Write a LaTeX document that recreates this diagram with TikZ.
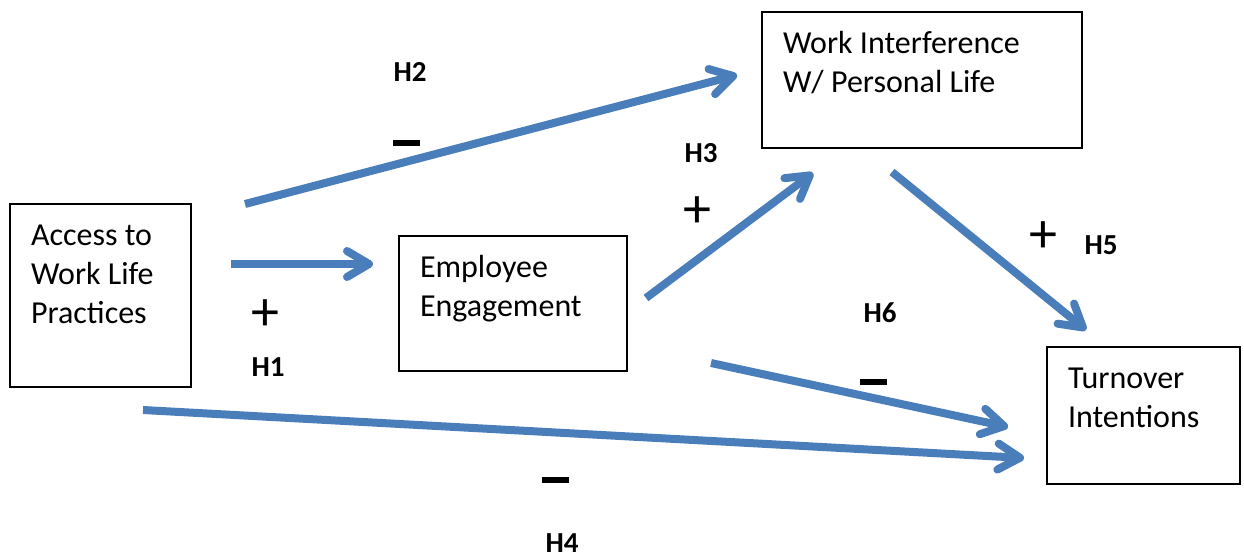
\documentclass[tikz,border=0pt]{standalone}
\usepackage{fontspec}
\setmainfont{Carlito}
\usetikzlibrary{arrows.meta}
\definecolor{arrowblue}{RGB}{74,126,187}
\tikzset{
  boxnode/.style={draw=black, line width=1.6pt, anchor=north west, inner sep=0pt, outer sep=0pt},
  arr/.style={draw=arrowblue, line width=8pt, -{Straight Barb[length=22pt, width=26pt, round]}},
  hlab/.style={font=\fontsize{29}{31}\selectfont\bfseries, inner sep=0pt},
  sign/.style={font=\fontsize{56}{58}\selectfont, inner sep=0pt},
  minussign/.style={fill=black, minimum width=27pt, minimum height=5.5pt, inner sep=0pt}
}
\newcommand{\boxtext}[3]{\parbox[c][#1][t]{#2}{\raggedright\leftskip=21pt\fontsize{32}{39}\selectfont\rule{0pt}{41pt}#3}}
\begin{document}
\begin{tikzpicture}[x=1pt,y=-1pt]
\useasboundingbox (0,0) rectangle (1244,557);
% boxes
\node[boxnode] (access) at (10,204) {\boxtext{183pt}{181pt}{Access to\\Work Life\\Practices}};
\node[boxnode] (engage) at (399,236) {\boxtext{135pt}{228pt}{Employee\\Engagement}};
\node[boxnode] (wipl) at (762,12) {\boxtext{136pt}{320pt}{Work Interference\\W/ Personal Life}};
\node[boxnode] (turn) at (1047,347) {\boxtext{137pt}{193pt}{Turnover\\Intentions}};
% connector end points
\coordinate (h2s) at (245,204); \coordinate (h2e) at (737,75);
\coordinate (h1s) at (231,264); \coordinate (h1e) at (373,264);
\coordinate (h3s) at (646,298); \coordinate (h3e) at (813,173);
\coordinate (h5s) at (892,172); \coordinate (h5e) at (1086,330);
\coordinate (h6s) at (711,363); \coordinate (h6e) at (1008,427);
\coordinate (h4s) at (143,410); \coordinate (h4e) at (1024,458);
% connectors
\draw[arr] (h2s) -- (h2e);
\draw[arr] (h1s) -- (h1e);
\draw[arr] (h3s) -- (h3e);
\draw[arr] (h5s) -- (h5e);
\draw[arr] (h6s) -- (h6e);
\draw[arr] (h4s) -- (h4e);
% labels
\node[hlab] (lh2) at (410,72) {H2};
\node[minussign] (m2) at (406,143) {};
\node[hlab] (lh3) at (701,153) {H3};
\node[sign] (p3) at (697,212) {+};
\node[sign] (p5) at (1043,237) {+};
\node[hlab] (lh5) at (1101,245) {H5};
\node[sign] (p1) at (265,315) {+};
\node[hlab] (lh1) at (268,367) {H1};
\node[hlab] (lh6) at (880,313) {H6};
\node[minussign] (m6) at (873,382) {};
\node[minussign] (m4) at (555,480) {};
\node[hlab] (lh4) at (562,543) {H4};
\end{tikzpicture}
\end{document}
